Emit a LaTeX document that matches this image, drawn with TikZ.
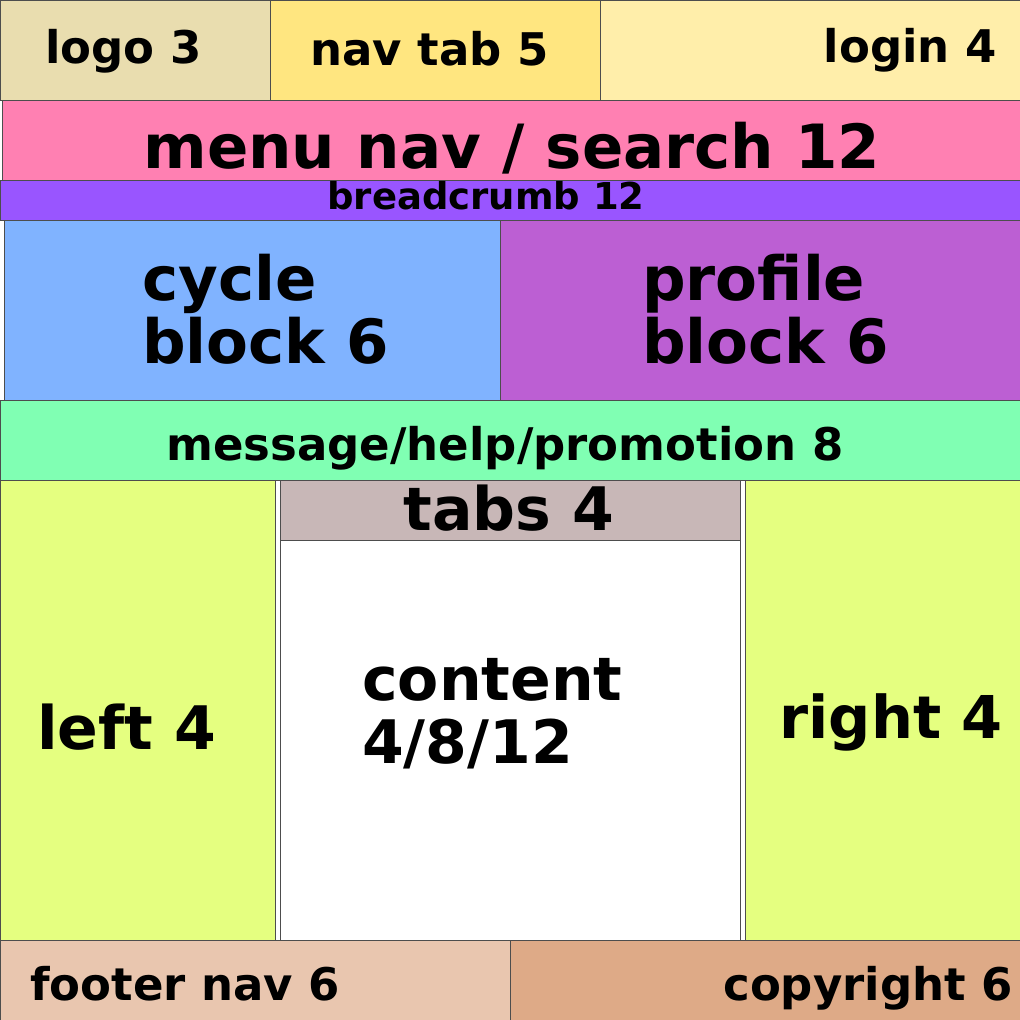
\documentclass[tikz,border=0pt]{standalone}
\usepackage{fontspec}
\setmainfont{DejaVu Sans}
\definecolor{logoc}{HTML}{E9DDAF}
\definecolor{navtabc}{HTML}{FFE680}
\definecolor{loginc}{HTML}{FFEEAA}
\definecolor{menuc}{HTML}{FF80B2}
\definecolor{crumbc}{HTML}{9955FF}
\definecolor{cyclec}{HTML}{80B3FF}
\definecolor{profilec}{HTML}{BC5FD3}
\definecolor{messagec}{HTML}{80FFB3}
\definecolor{sidec}{HTML}{E5FF80}
\definecolor{tabsc}{HTML}{C8B7B7}
\definecolor{footerc}{HTML}{E9C6AF}
\definecolor{copyc}{HTML}{DEAA87}
\definecolor{edgec}{HTML}{4D4D4D}
\newcommand{\fs}[1]{\bfseries\fontsize{#1}{#1}\selectfont}

\begin{document}
\begin{tikzpicture}[x=1pt, y=-1pt, box/.style={draw=edgec, line width=1pt},
    lbl/.style={inner sep=0pt, text=black}]
    \useasboundingbox (0, 0) rectangle (1020, 1020);
    % header
    \draw[box, fill=logoc] (0, 0) rectangle (270, 100);
    \draw[box, fill=navtabc] (270, 0) rectangle (600, 100);
    \draw[box, fill=loginc] (600, 0) rectangle (1020, 100);
    \node[lbl, anchor=base west] (logo) at (45, 63) {\fs{45}logo 3};
    \node[lbl, anchor=base west] (navtab) at (310, 65) {\fs{45}nav tab 5};
    \node[lbl, anchor=base east] (login) at (997, 62) {\fs{45}login 4};
    % menu and breadcrumb
    \draw[box, fill=menuc] (2, 100) rectangle (1020, 180);
    \node[lbl, anchor=base] (menu) at (512, 168) {\fs{61}menu nav / search 12};
    \draw[box, fill=crumbc] (0, 180) rectangle (1020, 220);
    \node[lbl, anchor=base] (crumb) at (486, 209) {\fs{37}breadcrumb 12};
    % blocks
    \draw[box, fill=cyclec] (4, 220) rectangle (500, 400);
    \draw[box, fill=profilec] (500, 220) rectangle (1020, 400);
    \node[lbl, anchor=base west] (cycle) at (142, 300) {\fs{61}cycle};
    \node[lbl, anchor=base west] (cycleblock) at (142, 363) {\fs{61}block 6};
    \node[lbl, anchor=base west] (profile) at (642, 300) {\fs{61}profile};
    \node[lbl, anchor=base west] (profileblock) at (642, 363) {\fs{61}block 6};
    % message
    \draw[box, fill=messagec] (0, 400) rectangle (1020, 480);
    \node[lbl, anchor=base] (message) at (505, 460) {\fs{45}message/help/promotion 8};
    % columns
    \draw[box, fill=sidec] (0, 480) rectangle (275, 940);
    \draw[box, fill=tabsc] (280, 480) rectangle (740, 540);
    \draw[box, fill=white] (280, 540) rectangle (740, 940);
    \draw[box, fill=sidec] (745, 480) rectangle (1020, 940);
    \node[lbl, anchor=base] (tabs) at (509, 530) {\fs{60}tabs 4};
    \node[lbl, anchor=base west] (content) at (362, 700) {\fs{60}content};
    \node[lbl, anchor=base west] (contentsize) at (362, 763) {\fs{60}4/8/12};
    \node[lbl, anchor=base west] (left) at (37, 749) {\fs{60}left 4};
    \node[lbl, anchor=base east] (right) at (1003, 738) {\fs{59}right 4};
    % footer
    \draw[box, fill=footerc] (0, 940) rectangle (510, 1020);
    \draw[box, fill=copyc] (510, 940) rectangle (1020, 1020);
    \node[lbl, anchor=base west] (footer) at (30, 1000) {\fs{45}footer nav 6};
    \node[lbl, anchor=base east] (copyright) at (1013, 1000) {\fs{45}copyright 6};
\end{tikzpicture}
\end{document}
